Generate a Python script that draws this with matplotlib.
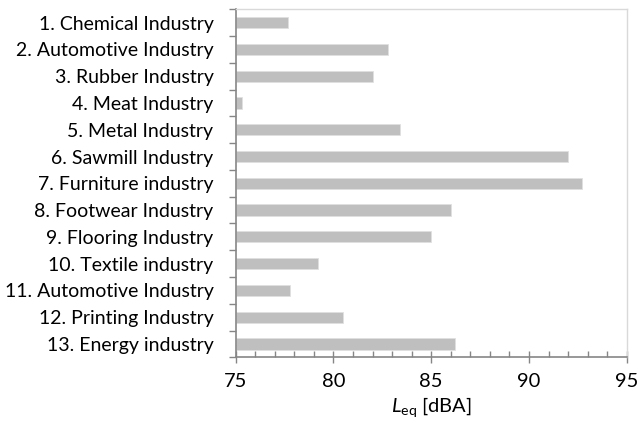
import matplotlib
matplotlib.use("Agg")
import matplotlib.pyplot as plt
from matplotlib.ticker import MultipleLocator, FixedLocator, NullFormatter

categories = ["1. Chemical Industry", "2. Automotive Industry", "3. Rubber Industry",
              "4. Meat Industry", "5. Metal Industry", "6. Sawmill Industry",
              "7. Furniture industry", "8. Footwear Industry", "9. Flooring Industry",
              "10. Textile industry", "11. Automotive Industry", "12. Printing Industry",
              "13. Energy industry"]
leq_values = [77.7, 82.8, 82.0, 75.3, 83.4, 92.0, 92.7, 86.0, 85.0, 79.2, 77.8, 80.5, 86.2]
x_ticks = [75, 80, 85, 90, 95]

plt.rcParams['font.family'] = ['Lato', 'DejaVu Sans']
plt.rcParams['mathtext.fontset'] = 'custom'
plt.rcParams['mathtext.it'] = 'Lato:italic'
plt.rcParams['mathtext.rm'] = 'Lato'

fig = plt.figure(figsize=(6.38, 4.23), dpi=100)
ax = fig.add_axes([235.7/638, 1 - 357.3/423, (626.7-235.7)/638, (357.3-9.3)/423])

n = len(categories)
ypos = list(range(n))
ax.barh(ypos, [v - 75 for v in leq_values], left=75, height=0.42,
        color="#BFBFBF", edgecolor="#E0E0E0", linewidth=0.6)

ax.set_xlim(75, 95)
ax.set_ylim(n - 0.5, -0.5)
ax.set_xticks(x_ticks)
ax.set_xticklabels([str(t) for t in x_ticks], fontsize=14.5)
ax.xaxis.set_minor_locator(MultipleLocator(1))
ax.tick_params(axis='x', which='major', direction='inout', length=8, width=1, color='#868686', pad=7)
ax.tick_params(axis='x', which='minor', direction='in', length=4, width=1, color='#868686')

ax.set_yticks(ypos)
ax.set_yticklabels(categories, fontsize=14)
ax.tick_params(axis='y', which='major', length=0, pad=16)
ax.yaxis.set_minor_locator(FixedLocator([i - 0.5 for i in range(n + 1)]))
ax.yaxis.set_minor_formatter(NullFormatter())
ax.tick_params(axis='y', which='minor', direction='out', length=5, width=1, color='#868686')

for s in ['left', 'bottom']:
    ax.spines[s].set_color('#868686')
    ax.spines[s].set_linewidth(1.2)
for s in ['top', 'right']:
    ax.spines[s].set_color('#D9D9D9')
    ax.spines[s].set_linewidth(1)

ax.set_xlabel(r'$\mathit{L}_{\mathrm{eq}}$ [dBA]', fontsize=14.5, labelpad=4)

fig.savefig("out.png", dpi=100)
